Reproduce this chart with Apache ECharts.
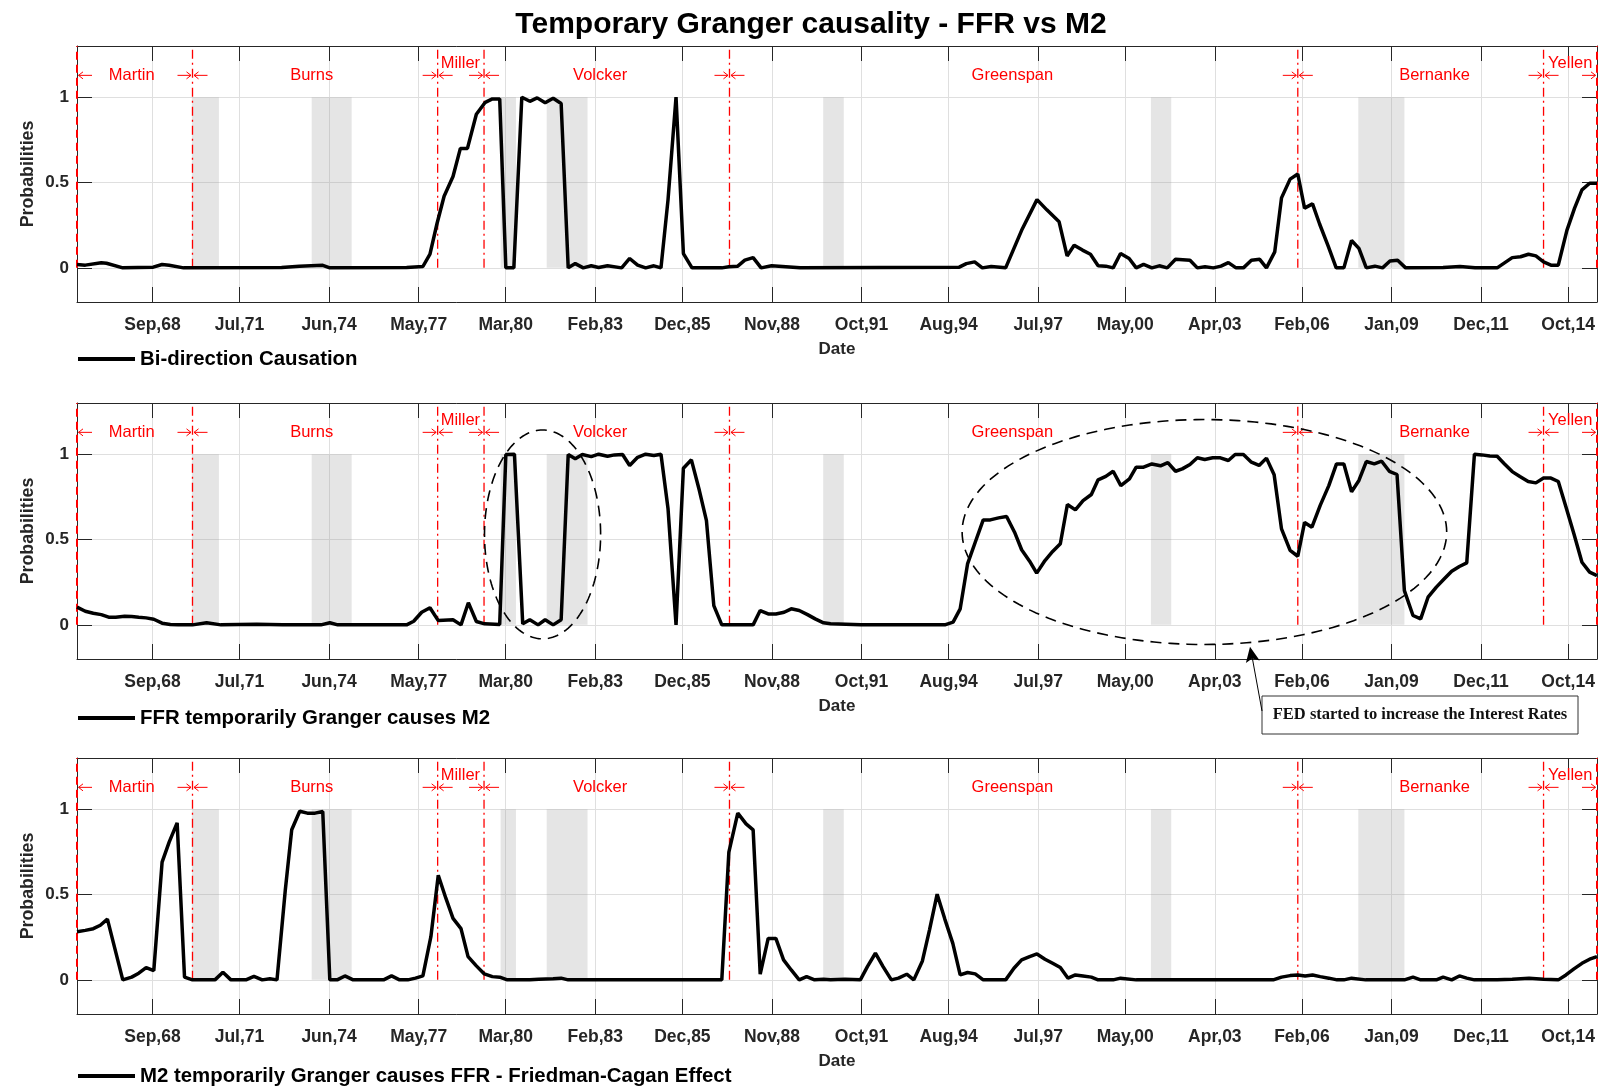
<!DOCTYPE html>
<html>
<head>
<meta charset="utf-8">
<script src="https://cdn.jsdelivr.net/npm/echarts@6/dist/echarts.min.js"></script>
<style>html,body{margin:0;padding:0;background:#fff}#main{width:1608px;height:1089px}</style>
</head>
<body>
<div id="main"></div>
<script>
// ---------------- data ----------------
const xMin = 1966.21, xMax = 2015.69;
const tickLabels = ['Sep,68','Jul,71','Jun,74','May,77','Mar,80','Feb,83','Dec,85','Nov,88','Oct,91','Aug,94','Jul,97','May,00','Apr,03','Feb,06','Jan,09','Dec,11','Oct,14'];
const yTicks = [0, 0.5, 1];
const seriesNames = ['Bi-direction Causation', 'FFR temporarily Granger causes M2', 'M2 temporarily Granger causes FFR - Friedman-Cagan Effect'];

const bidir = [[1966.21,0.02],[1966.48,0.016],[1967.0,0.03],[1967.17,0.027],[1967.70,0.0],[1968.69,0.004],[1968.98,0.02],[1969.21,0.015],[1969.68,0.0],[1972.87,0.002],[1973.45,0.01],[1974.21,0.015],[1974.44,0.0],[1976.94,0.002],[1977.47,0.008],[1977.70,0.08],[1977.93,0.26],[1978.16,0.42],[1978.45,0.535],[1978.69,0.70],[1978.92,0.70],[1979.21,0.90],[1979.50,0.97],[1979.73,0.99],[1979.97,0.99],[1980.17,0.0],[1980.43,0.0],[1980.69,1.0],[1980.95,0.976],[1981.19,0.996],[1981.45,0.967],[1981.71,0.994],[1981.97,0.963],[1982.2,0.0],[1982.43,0.025],[1982.69,0.0],[1982.95,0.012],[1983.19,0.002],[1983.48,0.012],[1983.94,0.0],[1984.2,0.055],[1984.46,0.016],[1984.72,0.0],[1984.99,0.012],[1985.22,0.0],[1985.45,0.40],[1985.71,1.0],[1985.95,0.084],[1986.23,0.0],[1987.2,0.0],[1987.43,0.006],[1987.72,0.01],[1987.95,0.045],[1988.22,0.06],[1988.48,0.0],[1988.82,0.012],[1989.75,0.0],[1994.93,0.004],[1995.16,0.025],[1995.43,0.035],[1995.68,0.0],[1995.97,0.008],[1996.44,0.0],[1996.96,0.22],[1997.46,0.40],[1997.78,0.34],[1998.18,0.27],[1998.44,0.07],[1998.67,0.133],[1998.94,0.104],[1999.2,0.08],[1999.45,0.012],[1999.7,0.01],[1999.94,0.0],[2000.18,0.084],[2000.46,0.055],[2000.69,0.0],[2000.93,0.02],[2001.2,0.0],[2001.44,0.012],[2001.7,0.0],[2001.97,0.05],[2002.44,0.045],[2002.68,0.0],[2002.93,0.006],[2003.2,0.0],[2003.45,0.01],[2003.69,0.031],[2003.94,0.0],[2004.18,0.0],[2004.44,0.045],[2004.71,0.05],[2004.93,0.0],[2005.2,0.094],[2005.42,0.41],[2005.7,0.52],[2005.95,0.55],[2006.17,0.35],[2006.43,0.375],[2006.66,0.257],[2006.94,0.127],[2007.2,0.0],[2007.45,0.0],[2007.7,0.16],[2007.94,0.114],[2008.18,0.0],[2008.46,0.01],[2008.71,0.0],[2008.95,0.04],[2009.2,0.045],[2009.46,0.0],[2010.68,0.002],[2011.23,0.008],[2011.72,0.0],[2012.44,0.0],[2012.93,0.06],[2013.2,0.065],[2013.46,0.08],[2013.7,0.07],[2013.95,0.035],[2014.19,0.016],[2014.43,0.016],[2014.71,0.22],[2014.96,0.35],[2015.2,0.457],[2015.45,0.496],[2015.69,0.496]];

const ffrM2 = [[1966.21,0.104],[1966.48,0.08],[1966.74,0.068],[1967.0,0.06],[1967.24,0.045],[1967.47,0.045],[1967.76,0.05],[1967.99,0.049],[1968.22,0.045],[1968.46,0.041],[1968.71,0.033],[1968.98,0.01],[1969.25,0.002],[1969.5,0.0],[1969.97,0.0],[1970.43,0.012],[1970.9,0.0],[1972.06,0.004],[1972.9,0.0],[1974.15,0.0],[1974.44,0.012],[1974.7,0.0],[1976.94,0.0],[1977.17,0.021],[1977.43,0.074],[1977.7,0.1],[1977.97,0.025],[1978.45,0.03],[1978.71,0.0],[1978.95,0.13],[1979.21,0.02],[1979.48,0.006],[1979.97,0.002],[1980.17,0.998],[1980.45,1.0],[1980.72,0.006],[1980.95,0.03],[1981.22,0.0],[1981.45,0.03],[1981.71,0.0],[1981.97,0.03],[1982.2,0.998],[1982.43,0.973],[1982.66,0.998],[1982.95,0.986],[1983.19,1.0],[1983.48,0.988],[1983.71,0.996],[1983.97,0.998],[1984.2,0.934],[1984.46,0.982],[1984.72,1.0],[1984.99,0.992],[1985.22,1.0],[1985.45,0.68],[1985.71,0.0],[1985.95,0.918],[1986.21,0.967],[1986.47,0.787],[1986.7,0.611],[1986.94,0.113],[1987.2,0.0],[1988.22,0.0],[1988.45,0.084],[1988.71,0.064],[1988.96,0.064],[1989.23,0.074],[1989.46,0.094],[1989.72,0.084],[1989.99,0.06],[1990.24,0.035],[1990.51,0.012],[1990.74,0.006],[1991.73,0.0],[1994.46,0.0],[1994.73,0.016],[1994.96,0.094],[1995.2,0.357],[1995.45,0.484],[1995.71,0.615],[1995.94,0.615],[1996.21,0.627],[1996.47,0.635],[1996.73,0.543],[1996.96,0.44],[1997.22,0.373],[1997.45,0.303],[1997.72,0.377],[1997.97,0.43],[1998.22,0.475],[1998.45,0.705],[1998.71,0.674],[1998.96,0.728],[1999.23,0.764],[1999.45,0.85],[1999.7,0.87],[1999.94,0.90],[2000.19,0.816],[2000.47,0.855],[2000.69,0.924],[2000.93,0.924],[2001.2,0.943],[2001.48,0.932],[2001.72,0.951],[2001.97,0.90],[2002.19,0.914],[2002.44,0.94],[2002.68,0.979],[2002.92,0.969],[2003.18,0.979],[2003.43,0.979],[2003.69,0.963],[2003.91,0.998],[2004.18,0.998],[2004.44,0.953],[2004.69,0.934],[2004.93,0.977],[2005.18,0.879],[2005.42,0.5625],[2005.7,0.436],[2005.95,0.402],[2006.17,0.60],[2006.41,0.572],[2006.68,0.70],[2006.96,0.816],[2007.21,0.943],[2007.45,0.943],[2007.7,0.78],[2007.94,0.846],[2008.18,0.957],[2008.44,0.943],[2008.68,0.959],[2008.93,0.90],[2009.18,0.881],[2009.42,0.201],[2009.7,0.055],[2009.95,0.035],[2010.19,0.162],[2010.46,0.221],[2010.72,0.27],[2010.96,0.314],[2011.21,0.342],[2011.45,0.363],[2011.7,1.0],[2011.94,0.996],[2012.2,0.99],[2012.44,0.988],[2012.68,0.943],[2012.93,0.898],[2013.18,0.869],[2013.45,0.84],[2013.7,0.832],[2013.95,0.86],[2014.19,0.86],[2014.43,0.84],[2014.68,0.69],[2014.94,0.533],[2015.2,0.367],[2015.45,0.309],[2015.69,0.289]];

const m2Ffr = [[1966.21,0.282],[1966.48,0.29],[1966.74,0.30],[1966.97,0.32],[1967.2,0.356],[1967.7,0.0],[1967.99,0.016],[1968.22,0.039],[1968.46,0.072],[1968.71,0.054],[1968.98,0.69],[1969.21,0.807],[1969.47,0.92],[1969.71,0.016],[1969.97,0.0],[1970.7,0.0],[1970.96,0.045],[1971.22,0.0],[1971.71,0.0],[1971.97,0.02],[1972.24,0.0],[1972.49,0.006],[1972.72,0.0],[1972.99,0.525],[1973.2,0.88],[1973.46,0.988],[1973.71,0.977],[1973.96,0.977],[1974.21,0.986],[1974.44,0.0],[1974.68,0.0],[1974.93,0.023],[1975.2,0.0],[1976.19,0.0],[1976.45,0.023],[1976.71,0.0],[1976.98,0.0],[1977.23,0.01],[1977.47,0.023],[1977.73,0.253],[1977.97,0.613],[1978.22,0.477],[1978.45,0.36],[1978.71,0.30],[1978.94,0.136],[1979.21,0.082],[1979.47,0.035],[1979.73,0.019],[1979.97,0.016],[1980.22,0.0],[1980.95,0.0],[1981.24,0.004],[1981.71,0.006],[1981.97,0.01],[1982.2,0.0],[1987.2,0.0],[1987.43,0.749],[1987.72,0.977],[1987.99,0.914],[1988.22,0.879],[1988.45,0.033],[1988.71,0.243],[1988.96,0.243],[1989.21,0.117],[1989.46,0.058],[1989.72,0.0],[1989.96,0.019],[1990.22,0.0],[1990.51,0.004],[1990.74,0.0],[1991.21,0.004],[1991.71,0.0],[1991.94,0.078],[1992.2,0.156],[1992.45,0.078],[1992.72,0.0],[1992.95,0.01],[1993.22,0.033],[1993.45,0.0],[1993.73,0.111],[1993.96,0.292],[1994.21,0.502],[1994.46,0.356],[1994.72,0.214],[1994.96,0.029],[1995.2,0.043],[1995.45,0.035],[1995.71,0.0],[1996.44,0.0],[1996.71,0.068],[1996.96,0.117],[1997.22,0.136],[1997.46,0.152],[1997.72,0.121],[1997.97,0.097],[1998.22,0.072],[1998.47,0.01],[1998.71,0.029],[1998.96,0.023],[1999.23,0.016],[1999.45,0.0],[1999.94,0.0],[2000.18,0.01],[2000.69,0.0],[2005.15,0.0],[2005.42,0.016],[2005.7,0.025],[2005.95,0.029],[2006.19,0.023],[2006.43,0.029],[2006.68,0.019],[2006.96,0.01],[2007.23,0.0],[2007.45,0.0],[2007.7,0.01],[2008.16,0.0],[2009.42,0.0],[2009.7,0.016],[2009.95,0.0],[2010.46,0.0],[2010.68,0.016],[2010.96,0.0],[2011.21,0.023],[2011.45,0.01],[2011.7,0.0],[2012.44,0.0],[2012.93,0.004],[2013.48,0.01],[2013.95,0.004],[2014.43,0.0],[2014.68,0.029],[2014.94,0.064],[2015.2,0.097],[2015.45,0.121],[2015.69,0.136]];

const recessions = [[1969.95,1970.83],[1973.85,1975.15],[1980.0,1980.5],[1981.5,1982.83],[1990.5,1991.17],[2001.17,2001.83],[2007.92,2009.42]];
const chairBounds = [1966.21, 1969.97, 1977.95, 1979.46, 1987.45, 2005.95, 2013.95, 2015.69];
const chairNames = ['Martin','Burns','Miller','Volcker','Greenspan','Bernanke','Yellen'];
const chairLabelX = [1967.99, 1973.85, 1978.69, 1983.24, 1996.66, 2010.40, 2014.82];
const raisedChairs = ['Miller','Yellen'];
// dashed ellipses in panel 2: [centerX, centerY, radiusX, radiusY] in data units
const ellipses = [[1981.365, 0.53, 1.89, 0.612], [2002.91, 0.544, 7.887, 0.659]];
const annotationText = 'FED started to increase the Interest Rates';
const titleText = 'Temporary Granger causality - FFR vs M2';

// ---------------- chart ----------------
const FONT = '"Liberation Sans", Arial, Helvetica, sans-serif';
const monthNames = ['Jan','Feb','Mar','Apr','May','Jun','Jul','Aug','Sep','Oct','Nov','Dec'];
const tickPos = tickLabels.map(l => {
  const parts = l.split(',');
  const yy = +parts[1];
  return (yy < 50 ? 2000 + yy : 1900 + yy) + monthNames.indexOf(parts[0]) / 12;
});
function labelFor(v) {
  let best = 0, bd = Infinity;
  tickPos.forEach((p, i) => { const d = Math.abs(p - v); if (d < bd) { bd = d; best = i; } });
  return tickLabels[best];
}
const seriesData = [bidir, ffrM2, m2Ffr];
const gridTops = [46, 403, 758];
const legendTops = [349, 708, 1066];
const AX = '#262626';
const LABEL_LEVEL = 1.126, RAISED_LEVEL = 1.195, ARROW_LEVEL = 1.128;

const grids = [], xAxes = [], yAxes = [], series = [], legends = [];
for (let i = 0; i < 3; i++) {
  grids.push({left: 77, width: 1520, top: gridTops[i], height: 256, containLabel: false, outerBoundsMode: 'none'});
  xAxes.push({
    gridIndex: i, type: 'value', min: xMin, max: xMax, position: 'bottom',
    axisLine: {show: true, onZero: false, lineStyle: {color: AX, width: 1}},
    axisTick: {show: true, inside: true, length: 15, customValues: tickPos, lineStyle: {color: AX, width: 1}},
    axisLabel: {show: true, customValues: tickPos, formatter: v => labelFor(v), margin: 14,
      fontSize: 17.5, fontWeight: 'bold', color: AX, fontFamily: FONT},
    splitLine: {show: true, lineStyle: {color: '#dfdfdf', width: 1}},
    name: 'Date', nameLocation: 'middle', nameGap: 39, nameMoveOverlap: false,
    nameTextStyle: {fontSize: 17, fontWeight: 'bold', color: AX, fontFamily: FONT}
  });
  xAxes.push({
    gridIndex: i, type: 'value', min: xMin, max: xMax, position: 'top',
    axisLine: {show: true, onZero: false, lineStyle: {color: AX, width: 1}},
    axisTick: {show: true, inside: true, length: 15, customValues: tickPos, lineStyle: {color: AX, width: 1}},
    axisLabel: {show: false}, splitLine: {show: false}
  });
  yAxes.push({
    gridIndex: i, type: 'value', min: -0.2, max: 1.3, position: 'left',
    axisLine: {show: true, onZero: false, lineStyle: {color: AX, width: 1}},
    axisTick: {show: true, inside: true, length: 15, customValues: yTicks, lineStyle: {color: AX, width: 1}},
    axisLabel: {show: true, customValues: yTicks, formatter: v => String(v), margin: 8,
      fontSize: 17, fontWeight: 'bold', color: AX, fontFamily: FONT},
    splitLine: {show: true, lineStyle: {color: '#dfdfdf', width: 1}},
    name: 'Probabilities', nameLocation: 'middle', nameGap: 40, nameMoveOverlap: false,
    nameTextStyle: {fontSize: 17.8, fontWeight: 'bold', color: AX, fontFamily: FONT}
  });
  yAxes.push({
    gridIndex: i, type: 'value', min: -0.2, max: 1.3, position: 'right',
    axisLine: {show: true, onZero: false, lineStyle: {color: AX, width: 1}},
    axisTick: {show: true, inside: true, length: 15, customValues: yTicks, lineStyle: {color: AX, width: 1}},
    axisLabel: {show: false}, splitLine: {show: false}
  });
  const xi = 2 * i, yi = 2 * i;
  // recession shading
  series.push({
    type: 'custom', xAxisIndex: xi, yAxisIndex: yi, z: 1, silent: true,
    data: recessions,
    renderItem: (params, api) => {
      const a = api.coord([api.value(0), 1]), b = api.coord([api.value(1), 0]);
      return {type: 'rect', shape: {x: a[0], y: a[1], width: b[0] - a[0], height: b[1] - a[1]},
        style: {fill: 'rgba(150,150,150,0.25)'}};
    }
  });
  // fed chair boundary lines
  series.push({
    type: 'custom', xAxisIndex: xi, yAxisIndex: yi, z: 3, silent: true,
    data: chairBounds.map(v => [v, 0]),
    renderItem: (params, api) => {
      const idx = params.dataIndex, x = api.value(0);
      const p0 = api.coord([x, 0]), p1 = api.coord([x, 1.3]);
      const edge = idx === 0 || idx === chairBounds.length - 1;
      return {type: 'line', shape: {x1: p0[0], y1: p0[1], x2: p1[0], y2: p1[1]},
        style: {stroke: '#ff0000', lineWidth: edge ? 2 : 1.3, lineDash: edge ? [8, 5] : [9, 4, 2, 4]}};
    }
  });
  // arrows at boundaries
  series.push({
    type: 'custom', xAxisIndex: xi, yAxisIndex: yi, z: 3, silent: true,
    data: chairBounds.map(v => [v, ARROW_LEVEL]),
    renderItem: (params, api) => {
      const idx = params.dataIndex;
      const p = api.coord([api.value(0), api.value(1)]);
      const st = {stroke: '#ff0000', lineWidth: 1, fill: null};
      const ch = [];
      if (idx > 0) {
        ch.push({type: 'line', shape: {x1: p[0] - 15, y1: p[1], x2: p[0] - 1.5, y2: p[1]}, style: st});
        ch.push({type: 'polyline', shape: {points: [[p[0] - 6, p[1] - 3.5], [p[0] - 1.5, p[1]], [p[0] - 6, p[1] + 3.5]]}, style: st});
      }
      if (idx < chairBounds.length - 1) {
        ch.push({type: 'line', shape: {x1: p[0] + 1.5, y1: p[1], x2: p[0] + 15, y2: p[1]}, style: st});
        ch.push({type: 'polyline', shape: {points: [[p[0] + 6, p[1] - 3.5], [p[0] + 1.5, p[1]], [p[0] + 6, p[1] + 3.5]]}, style: st});
      }
      return {type: 'group', children: ch};
    }
  });
  // chair names
  series.push({
    type: 'custom', xAxisIndex: xi, yAxisIndex: yi, z: 4, silent: true,
    data: chairLabelX.map((x, k) => [x, raisedChairs.indexOf(chairNames[k]) >= 0 ? RAISED_LEVEL : LABEL_LEVEL]),
    renderItem: (params, api) => {
      const p = api.coord([api.value(0), api.value(1)]);
      return {type: 'text', style: {text: chairNames[params.dataIndex], x: p[0], y: p[1],
        align: 'center', verticalAlign: 'middle', fill: '#ff0000', font: '16.5px ' + FONT}};
    }
  });
  // main line
  series.push({
    type: 'line', name: seriesNames[i], xAxisIndex: xi, yAxisIndex: yi, z: 5,
    data: seriesData[i], symbol: 'none', showSymbol: false,
    lineStyle: {color: '#000', width: 3.5}, itemStyle: {color: '#000'}, color: '#000'
  });
  legends.push({
    data: [seriesNames[i]], left: 78, top: legendTops[i], icon: 'rect', itemWidth: 57, itemHeight: 4,
    padding: 0, selectedMode: false,
    textStyle: {fontSize: 20.4, fontWeight: 'bold', color: '#000', fontFamily: FONT}
  });
}
// ellipses in panel 2
series.push({
  type: 'custom', xAxisIndex: 2, yAxisIndex: 2, z: 6, silent: true,
  data: ellipses,
  renderItem: (params, api) => {
    const cx = api.value(0), cy = api.value(1), rx = api.value(2), ry = api.value(3);
    const pts = [];
    for (let k = 0; k <= 180; k++) {
      const t = k / 180 * 2 * Math.PI;
      pts.push(api.coord([cx + rx * Math.cos(t), cy + ry * Math.sin(t)]));
    }
    return {type: 'polyline', shape: {points: pts}, style: {stroke: '#000', lineWidth: 1.6, lineDash: [11, 7], fill: null}};
  }
});

const chart = echarts.init(document.getElementById('main'), null, {renderer: 'canvas'});
chart.setOption({
  animation: false,
  backgroundColor: '#fff',
  grid: grids, xAxis: xAxes, yAxis: yAxes, series: series, legend: legends,
  graphic: [
    {type: 'text', z: 20, style: {text: titleText, x: 811, y: 25, align: 'center', verticalAlign: 'middle',
      font: 'bold 30px ' + FONT, fill: '#000'}},
    {type: 'rect', z: 20, shape: {x: 1262, y: 696, width: 316, height: 38}, style: {fill: '#fff', stroke: '#333', lineWidth: 1}},
    {type: 'text', z: 21, style: {text: annotationText, x: 1420, y: 715, align: 'center', verticalAlign: 'middle',
      font: 'bold 16.5px "Liberation Serif", "Times New Roman", serif', fill: '#111'}},
    {type: 'line', z: 20, shape: {x1: 1262, y1: 711, x2: 1252.3, y2: 658}, style: {stroke: '#000', lineWidth: 1}},
    {type: 'polygon', z: 20, shape: {points: [[1250, 646.7], [1245.9, 663], [1252.2, 658.5], [1259.7, 660.4]]}, style: {fill: '#000'}}
  ]
});
</script>
</body>
</html>
